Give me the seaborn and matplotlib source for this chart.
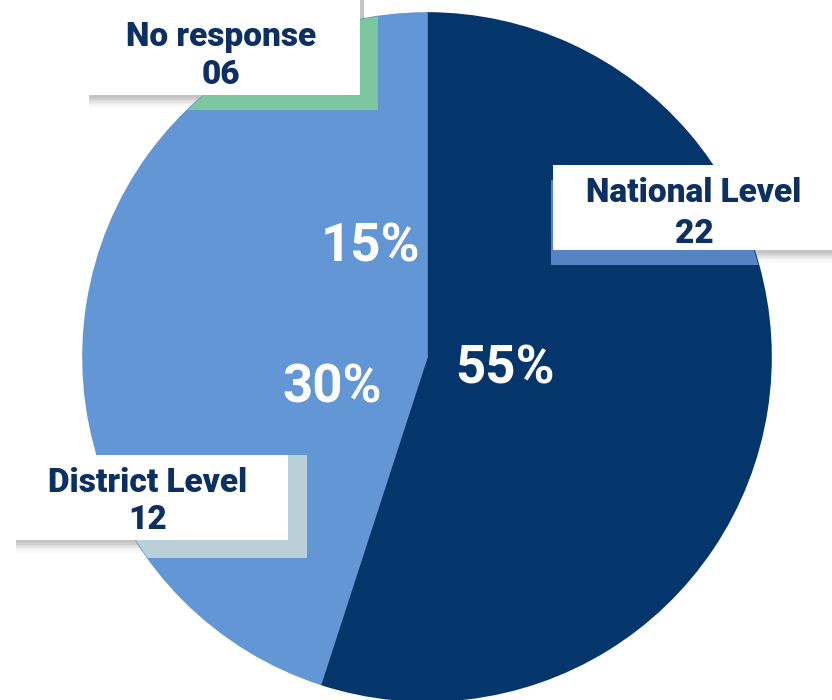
import numpy as np
import matplotlib
matplotlib.use("Agg")
import matplotlib.pyplot as plt
from matplotlib.patches import Rectangle, Circle
import seaborn as sns

# Survey responses by level
categories = ["National Level", "District Level", "No response"]
counts = [22, 12, 6]
count_labels = ["22", "12", "06"]

sns.set_theme(style="white")
plt.rcParams["font.family"] = ["Roboto", "DejaVu Sans"]

NAVY = "#04356b"
LIGHT = "#6396d4"
TEXT = "#0c3062"
palette = sns.color_palette([NAVY, LIGHT, LIGHT])

W, H = 832, 700
fig = plt.figure(figsize=(W / 100, H / 100), dpi=100)
ax = fig.add_axes([0, 0, 1, 1])


def py(y):
    """Pixel row (from top) to axis y."""
    return H - y


cx, cy, R = 427, py(357), 344

wedges, _ = ax.pie(counts, colors=palette, startangle=90, counterclock=False,
                   center=(cx, cy), radius=R, frame=True,
                   wedgeprops=dict(linewidth=1.2, zorder=1))
# edge in the face colour hides anti-aliasing seams between same-colour wedges
for w in wedges:
    w.set_edgecolor(w.get_facecolor())

ax.set_xlim(0, W)
ax.set_ylim(0, H)
ax.set_aspect("equal")
ax.axis("off")

# percentage labels placed along each wedge's mid-angle
total = sum(counts)
pct_radius = [0.23, 0.29, 0.36]
for w, c, rf in zip(wedges, counts, pct_radius):
    mid = np.deg2rad((w.theta1 + w.theta2) / 2)
    ax.text(cx + rf * R * np.cos(mid), cy + rf * R * np.sin(mid),
            f"{round(c / total * 100)}%", color="white", fontsize=38,
            fontweight="bold", ha="center", va="center", zorder=5)

clip_circle = Circle((cx, cy), R, transform=ax.transData)

# label boxes: (x0, y0_top, x1, y1_bottom), band rect, band colour
boxes = [
    dict(box=(553, 165, 860, 250), band=(551, 180, 860, 265), band_color="#5683c1",
         tx=694, ty=[193, 234]),
    dict(box=(12, 455, 288, 540), band=(30, 455, 307, 558), band_color="#b9d0d8",
         tx=148, ty=[483, 520]),
    dict(box=(85, -20, 360, 95), band=(100, -20, 378, 110), band_color="#7cc79f",
         tx=221, ty=[37, 75]),
]

for cat, lab, b in zip(categories, count_labels, boxes):
    x0, y0, x1, y1 = b["band"]
    band = Rectangle((x0, py(y1)), x1 - x0, y1 - y0, facecolor=b["band_color"],
                     edgecolor="none", zorder=2)
    ax.add_patch(band)
    band.set_clip_path(clip_circle)

    bx0, by0, bx1, by1 = b["box"]
    # soft drop shadow beneath the box
    for i, a in enumerate(np.linspace(0.10, 0.02, 7)):
        sh = Rectangle((bx0 + 4, py(by1 + 3 + i * 1.6)), bx1 - bx0, by1 - by0,
                       facecolor="#606060", edgecolor="none", alpha=a, zorder=0.5)
        ax.add_patch(sh)
    ax.add_patch(Rectangle((bx0, py(by1)), bx1 - bx0, by1 - by0,
                           facecolor="white", edgecolor="none", zorder=3))

    ax.text(b["tx"], py(b["ty"][0]), cat, color=TEXT, fontsize=24,
            fontweight="heavy", ha="center", va="center", zorder=4)
    ax.text(b["tx"], py(b["ty"][1]), lab, color=TEXT, fontsize=24,
            fontweight="heavy", ha="center", va="center", zorder=4)

fig.savefig("out.png", dpi=100, facecolor="white")
